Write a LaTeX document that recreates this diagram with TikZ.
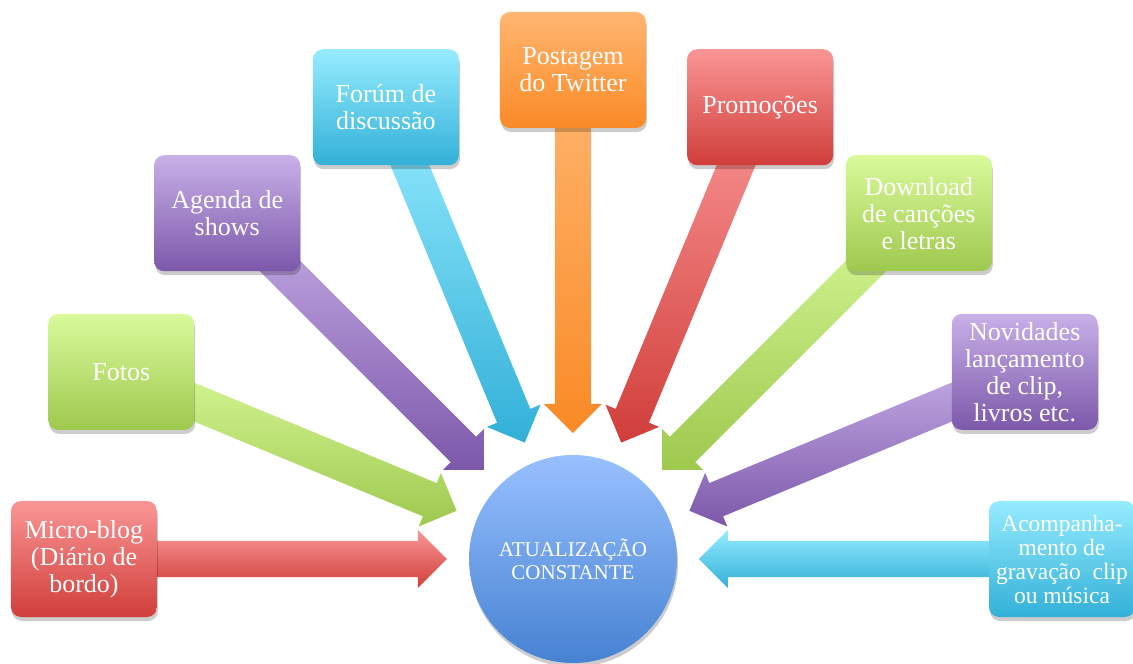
\documentclass[tikz,border=0pt]{standalone}
\usepackage{fontspec}
\setmainfont{Liberation Serif}
\usetikzlibrary{calc,shadows,backgrounds}
\definecolor{redT}{RGB}{250,150,150}
\definecolor{redB}{RGB}{208,62,58}
\definecolor{grnT}{RGB}{218,250,155}
\definecolor{grnB}{RGB}{158,200,78}
\definecolor{purT}{RGB}{200,176,232}
\definecolor{purB}{RGB}{124,88,170}
\definecolor{cynT}{RGB}{150,236,255}
\definecolor{cynB}{RGB}{50,176,216}
\definecolor{orgT}{RGB}{255,182,112}
\definecolor{orgB}{RGB}{250,138,38}
\definecolor{bluT}{RGB}{152,192,255}
\definecolor{bluB}{RGB}{70,130,210}
\tikzset{
  box/.style={rounded corners=10pt, minimum width=146pt, minimum height=116pt,
    inner sep=1pt, align=center, text=white, font=\fontsize{26}{27}\selectfont,
    drop shadow={shadow xshift=1pt, shadow yshift=-4pt, opacity=0.2, fill=black}},
  smallbox/.style={box, font=\fontsize{23.5}{24}\selectfont},
  hub/.style={circle, minimum size=208pt, inner sep=0pt, align=center, text=white,
    font=\fontsize{21}{23}\selectfont, top color=bluT, bottom color=bluB,
    drop shadow={shadow xshift=1pt, shadow yshift=-4pt, opacity=0.2, fill=black}},
}
\newcommand\blkarrow[3]{%
  \coordinate (S) at (#1.center);
  \coordinate (H) at ($(O)!155pt!(S)$);
  \coordinate (T) at ($(O)!126pt!(S)$);
  \shade[top color=#2, bottom color=#3]
    ($(S)!18pt!90:(O)$) -- ($(H)!18pt!90:(O)$) -- ($(H)!29pt!90:(O)$) -- (T)
    -- ($(H)!29pt!-90:(O)$) -- ($(H)!18pt!-90:(O)$) -- ($(S)!18pt!-90:(O)$) -- cycle;
}
\begin{document}
\begin{tikzpicture}[x=1pt,y=1pt]
\useasboundingbox (-573,-105) rectangle (560,559);
\coordinate (O) at (0,0);
\node[box, top color=redT, bottom color=redB] (mb) at (180:489) {Micro-blog\\(Diário de\\bordo)};
\node[box, top color=grnT, bottom color=grnB] (fo) at (157.5:489) {Fotos};
\node[box, top color=purT, bottom color=purB] (ag) at (135:489) {Agenda de\\shows};
\node[box, top color=cynT, bottom color=cynB] (fd) at (112.5:489) {Forúm de\\discussão};
\node[box, top color=orgT, bottom color=orgB] (tw) at (90:489) {Postagem\\do Twitter};
\node[box, top color=redT, bottom color=redB] (pr) at (67.5:489) {Promoções};
\node[box, top color=grnT, bottom color=grnB] (dl) at (45:489) {Download\\de canções\\e letras};
\node[box, top color=purT, bottom color=purB] (nv) at (22.5:489) {Novidades\\lançamento\\de clip,\\livros etc.};
\node[smallbox, top color=cynT, bottom color=cynB] (ac) at (0:489) {Acompanha-\\mento de\\gravação~~clip\\ou música};
\node[hub] (ctr) at (O) {ATUALIZAÇÃO\\CONSTANTE};
\begin{pgfonlayer}{background}
\blkarrow{mb}{redT}{redB}
\blkarrow{fo}{grnT}{grnB}
\blkarrow{ag}{purT}{purB}
\blkarrow{fd}{cynT}{cynB}
\blkarrow{tw}{orgT}{orgB}
\blkarrow{pr}{redT}{redB}
\blkarrow{dl}{grnT}{grnB}
\blkarrow{nv}{purT}{purB}
\blkarrow{ac}{cynT}{cynB}
\end{pgfonlayer}
\end{tikzpicture}
\end{document}
